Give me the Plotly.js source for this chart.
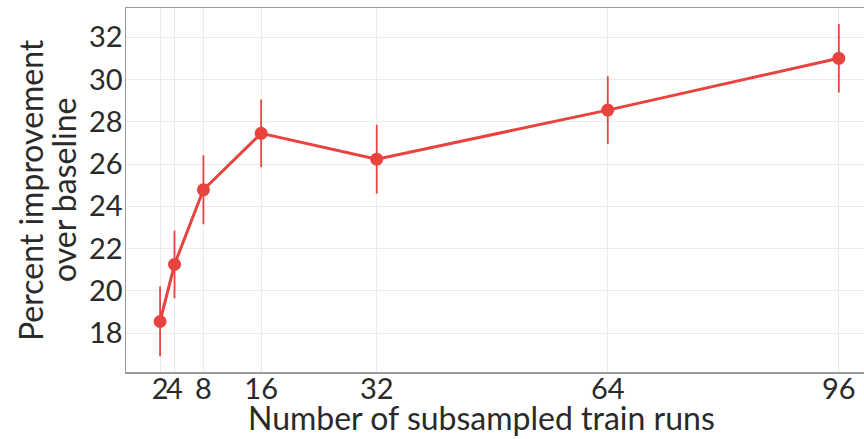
<!DOCTYPE html>
<html>
<head>
<meta charset="utf-8">
<script src="https://cdn.plot.ly/plotly-3.0.1.min.js"></script>
<style>
html,body{margin:0;padding:0;overflow:hidden;background:#fff;}
#chart{width:880px;height:439px;}
</style>
</head>
<body>
<div id="chart"></div>
<script>
const runs = [2, 4, 8, 16, 32, 64, 96];
const improvement = [18.55, 21.25, 24.78, 27.45, 26.23, 28.55, 31.0];
const errHalf = [1.65, 1.6, 1.63, 1.6, 1.63, 1.6, 1.62];
const xTicks = [2, 4, 8, 16, 32, 64, 96];
const yTicks = [18, 20, 22, 24, 26, 28, 30, 32];

const red = '#E8433F';
const font = 'Lato, "Open Sans", sans-serif';
const textColor = '#2a2a2a';

const trace = {
  x: runs,
  y: improvement,
  type: 'scatter',
  mode: 'lines+markers',
  line: {color: red, width: 3},
  marker: {color: red, size: 13},
  error_y: {type: 'data', array: errHalf, visible: true, color: red, thickness: 1.8, width: 0},
  showlegend: false,
  hoverinfo: 'x+y'
};

const layout = {
  width: 880,
  height: 439,
  margin: {l: 126, r: 0, t: 8, b: 67},
  paper_bgcolor: '#fff',
  plot_bgcolor: '#fff',
  font: {family: font, color: textColor},
  xaxis: {
    range: [-2.72, 101.7],
    tickvals: xTicks,
    ticktext: xTicks.map(String),
    tickangle: 0,
    tickfont: {size: 29, color: textColor},
    ticklabelstandoff: -9,
    showgrid: true,
    gridcolor: '#ebebeb',
    gridwidth: 1,
    zeroline: false,
    showline: true,
    linecolor: '#9a9a9a',
    linewidth: 1.5,
    mirror: true,
    ticks: '',
    ticklen: 0
  },
  yaxis: {
    range: [16.16, 33.38],
    tickvals: yTicks,
    tickfont: {size: 29, color: textColor},
    ticklabelstandoff: -4,
    showgrid: true,
    gridcolor: '#ebebeb',
    gridwidth: 1,
    zeroline: false,
    showline: true,
    linecolor: '#9a9a9a',
    linewidth: 1.5,
    mirror: true,
    ticks: '',
    ticklen: 0
  },
  annotations: [
    {text: 'Number of subsampled train runs', xref: 'paper', yref: 'paper',
     x: (481 - 126) / 754, y: -0.124, xanchor: 'center', yanchor: 'middle', showarrow: false,
     font: {size: 32, color: textColor, family: font}},
    {text: 'Percent improvement', xref: 'paper', yref: 'paper', textangle: -90,
     x: (30 - 126) / 754, y: 0.5, xanchor: 'center', yanchor: 'middle', showarrow: false,
     font: {size: 32, color: textColor, family: font}},
    {text: 'over baseline', xref: 'paper', yref: 'paper', textangle: -90,
     x: (63 - 126) / 754, y: 0.5, xanchor: 'center', yanchor: 'middle', showarrow: false,
     font: {size: 32, color: textColor, family: font}}
  ]
};

Plotly.newPlot('chart', [trace], layout, {displayModeBar: false, staticPlot: true});
</script>
</body>
</html>
